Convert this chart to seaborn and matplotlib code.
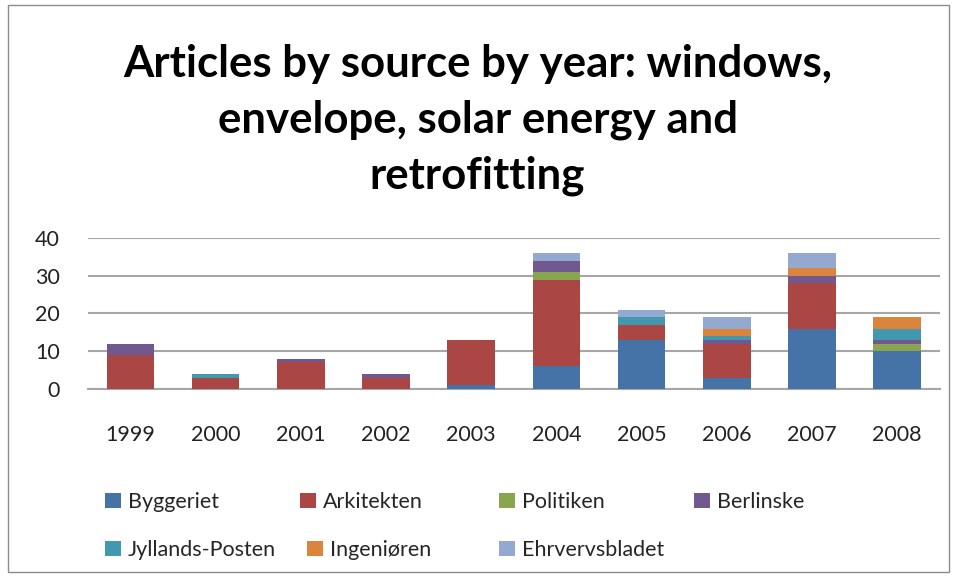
import matplotlib
matplotlib.use("Agg")
import matplotlib.pyplot as plt
import seaborn as sns
import pandas as pd
import numpy as np
from matplotlib.patches import Rectangle

years = ["1999", "2000", "2001", "2002", "2003", "2004", "2005", "2006", "2007", "2008"]
byggeriet      = [0, 0, 0, 0, 1, 6, 13, 3, 16, 10]
arkitekten     = [9, 3, 7, 3, 12, 23, 4, 9, 12, 0]
politiken      = [0, 0, 0, 0, 0, 2, 0, 0, 0, 2]
berlinske      = [3, 0, 1, 1, 0, 3, 0, 1, 2, 1]
jyllandsposten = [0, 1, 0, 0, 0, 0, 2, 1, 0, 3]
ingenioren     = [0, 0, 0, 0, 0, 0, 0, 2, 2, 3]
ehrvervsbladet = [0, 0, 0, 0, 0, 2, 2, 3, 4, 0]

series = ["Byggeriet", "Arkitekten", "Politiken", "Berlinske",
          "Jyllands-Posten", "Ingeniøren", "Ehrvervsbladet"]
values = [byggeriet, arkitekten, politiken, berlinske,
          jyllandsposten, ingenioren, ehrvervsbladet]
colors = ["#4572A7", "#AA4643", "#89A54E", "#71588F",
          "#4198AF", "#DB843D", "#93A9CF"]

sns.set_theme(style="white")
plt.rcParams["font.family"] = ["Lato", "DejaVu Sans"]

W, H = 955, 577
fig = plt.figure(figsize=(W / 100, H / 100), dpi=100)
ax = fig.add_axes([0.092, 0.326, 0.892, 0.2615])

cum = np.cumsum(np.array(values), axis=0)
for i in range(len(series) - 1, -1, -1):
    df = pd.DataFrame({"year": years, "value": cum[i]})
    sns.barplot(data=df, x="year", y="value", color=colors[i], width=0.56,
                saturation=1, ax=ax, errorbar=None, linewidth=0,
                zorder=3 + (len(series) - i))

ax.set_ylim(0, 40)
ax.set_xlim(-0.5, 9.5)
ax.set_yticks([0, 10, 20, 30, 40])
ax.set_xlabel("")
ax.set_ylabel("")
ax.yaxis.grid(True, color="#A6A6A6", linewidth=1.5)
ax.set_axisbelow(True)
for sp in ["left", "right", "top"]:
    ax.spines[sp].set_visible(False)
ax.spines["bottom"].set_color("#A6A6A6")
ax.spines["bottom"].set_linewidth(1.5)
ax.tick_params(axis="both", length=0, labelsize=15.5, colors="#222222")
ax.tick_params(axis="x", pad=26)
ax.tick_params(axis="y", pad=20)

# legend entries placed on a fixed grid, as in the reference
legend_pos = [(105, 502), (300, 502), (499, 502), (694, 502),
              (105, 550), (307, 550), (499, 550)]
for i, s in enumerate(series):
    h = Rectangle((0, 0), 1, 1, facecolor=colors[i], edgecolor="none")
    x, y = legend_pos[i]
    fig.legend([h], [s], loc="center left",
               bbox_to_anchor=(x / W, 1 - y / H), borderpad=0, borderaxespad=0,
               frameon=False, fontsize=15.5, handlelength=0.75, handleheight=0.75,
               handletextpad=0.3)

fig.text(0.5, 0.792, "Articles by source by year: windows,\nenvelope, solar energy and\nretrofitting",
         ha="center", va="center", fontsize=31.5, fontweight="bold",
         linespacing=1.47, color="#000000")

fig.patches.append(Rectangle((0.008, 0.008), 0.986, 0.984, transform=fig.transFigure,
                             fill=False, edgecolor="#8C8C8C", linewidth=1.0))

fig.savefig("out.png", dpi=100)
